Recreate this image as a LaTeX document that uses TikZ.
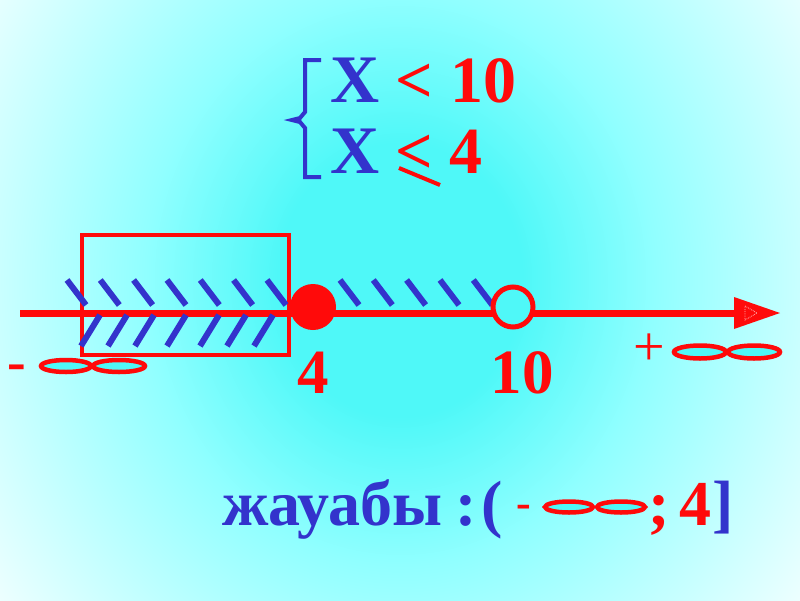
\documentclass[tikz,border=0pt]{standalone}
\usepackage{fontspec}
\setmainfont{Liberation Serif}
\definecolor{cyanC}{HTML}{4FF8F8}
\definecolor{cyanM}{HTML}{90FFFF}
\definecolor{paleC}{HTML}{F4FFFF}
\definecolor{redC}{HTML}{FF0A0A}
\definecolor{blueC}{HTML}{3333CC}
\pgfdeclareradialshading{bgshade}{\pgfpoint{0bp}{0bp}}{color(0bp)=(cyanC); color(6bp)=(cyanC); color(12.5bp)=(cyanM); color(25bp)=(paleC); color(50bp)=(paleC)}
\tikzset{
  hatch/.style={blueC, line width=6pt},
  redline/.style={redC, line width=4pt},
  inf/.style={redC, line width=4.5pt, fill=cyanC},
  lbl/.style={inner sep=0pt, font=\bfseries},
}
\begin{document}
\begin{tikzpicture}[x=1pt,y=-1pt]
\useasboundingbox (0,0) rectangle (800,600);
\begin{scope}
\clip (0,0) rectangle (800,600);
\fill[paleC] (0,0) rectangle (800,600);
\shade[shading=bgshade] (400,280) ellipse [x radius=510, y radius=570];
\end{scope}
% axis
\coordinate (axL) at (20,313);
\coordinate (axR) at (742,313);
\draw[redC, line width=7pt] (axL) -- (axR);
\fill[redC] (734,297) -- (780,313) -- (734,329) -- cycle;
\draw[red!30, line width=0.8pt, densely dotted] (745,306) -- (757,313) -- (745,320) -- cycle;
% red box
\node[draw=redC, line width=4pt, minimum width=207pt, minimum height=120pt, inner sep=0pt, anchor=north west] (box) at (80,233) {};
% hatches upper
\foreach \x in {67,100.3,133.6,167,200.3,233.6,267,340,373.3,406.6,440,473.3}
  \draw[hatch] (\x,280) -- ++(19,25);
% hatches lower
\foreach \x in {81,108,135,167,200,227,254}
  \draw[hatch] (\x,346) -- ++(19,-31);
% points
\node[circle, fill=redC, minimum size=46pt, inner sep=0pt] (p4) at (313,307) {};
\node[circle, draw=redC, line width=5pt, fill=cyanC, minimum size=40pt, inner sep=0pt] (p10) at (513,307) {};
% labels under axis
\node[lbl, redC, font=\bfseries\fontsize{63}{70}\selectfont, anchor=base] (l4) at (313,393) {4};
\node[lbl, redC, font=\bfseries\fontsize{63}{70}\selectfont, anchor=base] (l10) at (522,393) {10};
% - infinity left
\node[lbl, redC, font=\bfseries\fontsize{56}{64}\selectfont] (mL) at (17,373) {-};
\draw[inf] (66,366) ellipse [x radius=25, y radius=6];
\draw[inf] (119,366) ellipse [x radius=26, y radius=6];
% + infinity right
\node[lbl, redC, font=\fontsize{56}{64}\selectfont] (pR) at (649,350) {+};
\draw[inf] (700,352) ellipse [x radius=26, y radius=6.5];
\draw[inf] (754,352) ellipse [x radius=26, y radius=6.5];
% system
\draw[blueC, line width=4pt, line join=miter] (321,60) -- (305,60) -- (305,112) -- (300,118) -- (292,120) -- (300,122) -- (305,128) -- (305,177) -- (321,177);
\node[lbl, blueC, font=\bfseries\fontsize{68}{76}\selectfont, anchor=base west] (x1) at (330,102) {X};
\node[lbl, blueC, font=\bfseries\fontsize{68}{76}\selectfont, anchor=base west] (x2) at (330,173) {X};
\node[lbl, redC, font=\bfseries\fontsize{66}{76}\selectfont, anchor=base west] (lt1) at (395,102) {<};
\node[lbl, redC, font=\bfseries\fontsize{66}{76}\selectfont, anchor=base west] (lt2) at (395,173) {<};
\draw[redline] (399,168) -- (440,185);
\node[lbl, redC, font=\bfseries\fontsize{66}{76}\selectfont, anchor=base west] (n10) at (450,102) {10};
\node[lbl, redC, font=\bfseries\fontsize{66}{76}\selectfont, anchor=base west] (n4) at (449,173) {4};
% answer
\node[lbl, blueC, font=\bfseries\fontsize{64}{72}\selectfont, anchor=base west] (ans) at (222,525) {жауабы};
\node[lbl, blueC, font=\bfseries\fontsize{64}{72}\selectfont, anchor=base west] (colon) at (455,525) {:};
\node[lbl, blueC, font=\bfseries\fontsize{64}{72}\selectfont, anchor=base west] (par) at (481,525) {(};
\node[lbl, redC, font=\bfseries\fontsize{44}{50}\selectfont] (mB) at (524,511) {-};
\draw[inf] (569,507) ellipse [x radius=24, y radius=5.5];
\draw[inf] (621,507) ellipse [x radius=24, y radius=5.5];
\node[lbl, redC, font=\bfseries\fontsize{64}{72}\selectfont, anchor=base west] (semi) at (648,525) {;};
\node[lbl, redC, font=\bfseries\fontsize{64}{72}\selectfont, anchor=base west] (a4) at (679,525) {4};
\node[lbl, blueC, font=\bfseries\fontsize{64}{72}\selectfont, anchor=base west] (brk) at (712,525) {]};
\end{tikzpicture}
\end{document}
